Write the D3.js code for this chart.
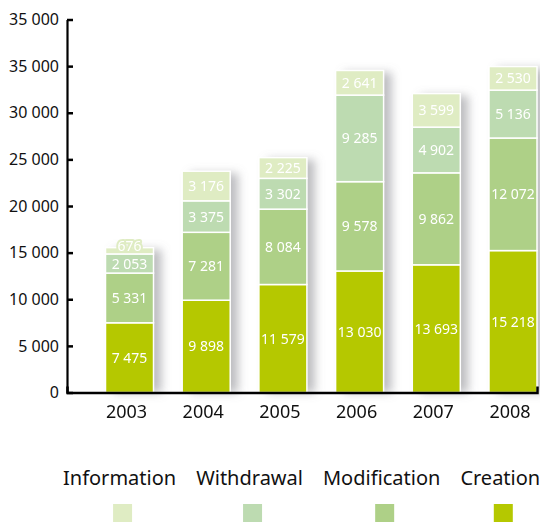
<!DOCTYPE html>
<html>
<head>
<meta charset="utf-8">
<script src="https://cdn.jsdelivr.net/npm/d3@7"></script>
<style>
  html, body { margin: 0; padding: 0; background: #fff; }
  svg { display: block; font-family: "Noto Sans", "DejaVu Sans", sans-serif; }
</style>
</head>
<body>
<svg id="chart" width="540" height="522"></svg>
<script>
// Yearly counts per type of operation
const years = ["2003", "2004", "2005", "2006", "2007", "2008"];
const creation     = [7475, 9898, 11579, 13030, 13693, 15218];
const modification = [5331, 7281, 8084, 9578, 9862, 12072];
const withdrawal   = [2053, 3375, 3302, 9285, 4902, 5136];
const information  = [676, 3176, 2225, 2641, 3599, 2530];

const seriesKeys   = ["creation", "modification", "withdrawal", "information"];
const seriesNames  = ["Creation", "Modification", "Withdrawal", "Information"];
const seriesColors = ["#b5c800", "#aed087", "#bddbb1", "#dfecc3"];

// Legend reads left to right from the top of the stack down
const legendOrder = ["information", "withdrawal", "modification", "creation"];

const yTickValues = [0, 5000, 10000, 15000, 20000, 25000, 30000, 35000, 40000];
const yTickLabels = ["0", "5 000", "10 000", "15 000", "20 000", "25 000", "30 000", "35 000", "35 000"];

const rows = years.map((yr, i) => ({
  year: yr,
  creation: creation[i],
  modification: modification[i],
  withdrawal: withdrawal[i],
  information: information[i]
}));

const fmt = d3.formatLocale({ decimal: ",", thousands: " ", grouping: [3], currency: ["", ""] }).format(",d");

const svg = d3.select("#chart");
const plotLeft = 67, plotRight = 537, plotBottom = 392.5, plotTop = 19.5;

const x = d3.scaleBand().domain(years).range([plotLeft, plotRight])
  .paddingInner(0.374).paddingOuter(0.251).align(1);
const y = d3.scaleLinear().domain([0, 40000]).range([plotBottom, plotTop]);
const color = d3.scaleOrdinal().domain(seriesKeys).range(seriesColors);

const stacked = d3.stack().keys(seriesKeys)(rows);

// Soft shadow behind each column
const defs = svg.append("defs");
const f = defs.append("filter").attr("id", "colShadow")
  .attr("x", "-50%").attr("y", "-20%").attr("width", "200%").attr("height", "140%");
f.append("feGaussianBlur").attr("stdDeviation", 5);

const totals = rows.map(r => d3.sum(seriesKeys, k => r[k]));
svg.append("g").attr("filter", "url(#colShadow)")
  .selectAll("rect").data(rows).join("rect")
  .attr("x", (d) => x(d.year) + 8)
  .attr("y", (d, i) => y(totals[i]) + 2)
  .attr("width", x.bandwidth())
  .attr("height", (d, i) => y(0) - y(totals[i]) - 2)
  .attr("fill", "#7c7c84")
  .attr("opacity", 0.5);

// Stacked segments
const layer = svg.append("g").selectAll("g").data(stacked).join("g")
  .attr("fill", d => color(d.key));

layer.selectAll("rect").data(d => d).join("rect")
  .attr("x", d => x(d.data.year))
  .attr("y", d => y(d[1]))
  .attr("width", x.bandwidth())
  .attr("height", d => y(d[0]) - y(d[1]))
  .attr("stroke", "#fff")
  .attr("stroke-width", 1.5);

// Value labels inside segments; a label in a thin segment is nudged
// up so it clears the label below, and keeps a halo in its segment colour.
const labelGap = 18;
const labelY = years.map(() => []);
stacked.forEach((s, si) => {
  s.forEach((d, i) => {
    let cy = (y(d[0]) + y(d[1])) / 2;
    if (si > 0) cy = Math.min(cy, labelY[i][si - 1] - labelGap);
    labelY[i][si] = cy;
  });
});

svg.append("g").selectAll("g").data(stacked).join("g")
  .each(function (s, si) {
    d3.select(this).selectAll("text").data(s).join("text")
      .attr("x", d => x(d.data.year) + x.bandwidth() / 2)
      .attr("y", (d, i) => labelY[i][si])
      .attr("dy", "0.36em")
      .attr("text-anchor", "middle")
      .attr("fill", "#fff")
      .attr("font-size", 14)
      .attr("paint-order", "stroke")
      .attr("stroke", d => (y(d[0]) - y(d[1]) < 14) ? color(s.key) : "none")
      .attr("stroke-width", 4)
      .attr("stroke-linejoin", "round")
      .text(d => fmt(d[1] - d[0]));
  });

// Y axis
const yAxis = d3.axisLeft(y)
  .tickValues(yTickValues)
  .tickFormat((d, i) => yTickLabels[i])
  .tickSizeInner(-6)
  .tickSizeOuter(0)
  .tickPadding(8);

const gy = svg.append("g").attr("transform", `translate(${plotLeft},0)`).call(yAxis);
gy.select(".domain").attr("stroke", "#000").attr("stroke-width", 2.2);
gy.selectAll(".tick line").attr("stroke", "#000").attr("stroke-width", 2.5);
gy.selectAll(".tick text").attr("font-size", 16).attr("fill", "#111")
  .attr("font-family", "Noto Sans, sans-serif");

// X axis
const xAxis = d3.axisBottom(x).tickSize(0).tickSizeOuter(-6).tickPadding(13);
const gx = svg.append("g").attr("transform", `translate(0,${plotBottom})`).call(xAxis);
gx.select(".domain").attr("stroke", "#000").attr("stroke-width", 2.5);
gx.selectAll(".tick text").attr("font-size", 18).attr("fill", "#111")
  .attr("dx", -3)
  .attr("font-family", "Noto Sans, sans-serif");

// Legend: names in a row, swatches centred underneath
const legend = svg.append("g");
let cursor = 63;
legendOrder.forEach(key => {
  const name = seriesNames[seriesKeys.indexOf(key)];
  const t = legend.append("text")
    .attr("x", cursor).attr("y", 485)
    .attr("font-size", 20).attr("fill", "#111")
    .text(name);
  const w = t.node().getComputedTextLength();
  const cx = cursor + w / 2 + 3;
  legend.append("rect")
    .attr("x", cx - 9.5).attr("y", 504)
    .attr("width", 19).attr("height", 19)
    .attr("fill", color(key));
  cursor += w + 20;
});
</script>
</body>
</html>
